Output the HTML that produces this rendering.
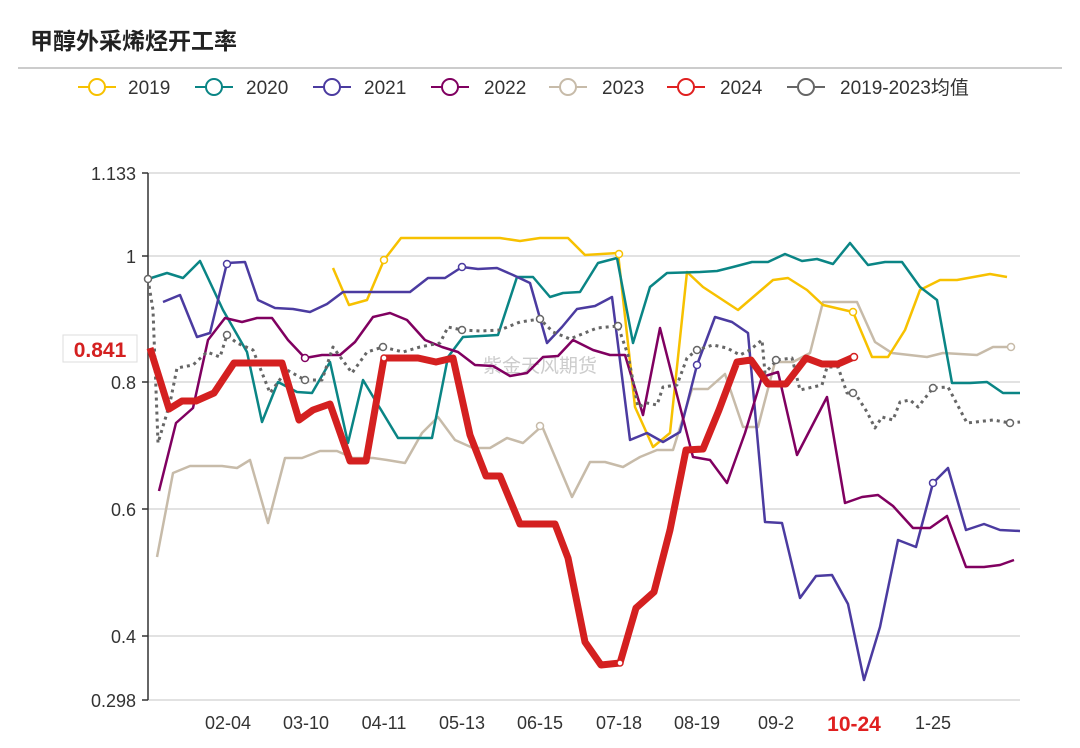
<!DOCTYPE html>
<html><head><meta charset="utf-8"><style>
body{margin:0;background:#fff;width:1080px;height:743px;overflow:hidden;font-family:"Liberation Sans","Noto Sans CJK SC",sans-serif}
</style></head><body>
<svg width="1080" height="743" xmlns="http://www.w3.org/2000/svg" font-family="Liberation Sans, Noto Sans CJK SC, sans-serif">
<text x="30" y="49" font-size="23" font-weight="bold" fill="#222" font-family="Noto Sans CJK SC, sans-serif">甲醇外采烯烃开工率</text>
<line x1="18" y1="68" x2="1062" y2="68" stroke="#bbb" stroke-width="1.5"/>
<g font-size="19" fill="#333" stroke-width="2" fill-opacity="1">
<g><line x1="78" y1="87" x2="116" y2="87" stroke="#f7c100"/><circle cx="97" cy="87" r="8" fill="#fff" stroke="#f7c100"/><text x="128" y="94" stroke="none">2019</text></g>
<g><line x1="195" y1="87" x2="233" y2="87" stroke="#0a8585"/><circle cx="214" cy="87" r="8" fill="#fff" stroke="#0a8585"/><text x="246" y="94" stroke="none">2020</text></g>
<g><line x1="313" y1="87" x2="351" y2="87" stroke="#4b3ba0"/><circle cx="332" cy="87" r="8" fill="#fff" stroke="#4b3ba0"/><text x="364" y="94" stroke="none">2021</text></g>
<g><line x1="431" y1="87" x2="469" y2="87" stroke="#800060"/><circle cx="450" cy="87" r="8" fill="#fff" stroke="#800060"/><text x="484" y="94" stroke="none">2022</text></g>
<g><line x1="549" y1="87" x2="587" y2="87" stroke="#c7bba9"/><circle cx="568" cy="87" r="8" fill="#fff" stroke="#c7bba9"/><text x="602" y="94" stroke="none">2023</text></g>
<g><line x1="667" y1="87" x2="705" y2="87" stroke="#e02020"/><circle cx="686" cy="87" r="8" fill="#fff" stroke="#e02020"/><text x="720" y="94" stroke="none">2024</text></g>
<g><line x1="787" y1="87" x2="825" y2="87" stroke="#666"/><circle cx="806" cy="87" r="8" fill="#fff" stroke="#666"/><text x="840" y="94" stroke="none">2019-2023均值</text></g>
</g>
<g stroke="#d8d8d8" stroke-width="1.5">
<line x1="148" y1="173" x2="1020" y2="173"/><line x1="148" y1="256" x2="1020" y2="256"/><line x1="148" y1="382" x2="1020" y2="382"/><line x1="148" y1="509" x2="1020" y2="509"/><line x1="148" y1="636" x2="1020" y2="636"/><line x1="148" y1="700" x2="1020" y2="700"/>
</g>
<line x1="148" y1="173" x2="148" y2="700" stroke="#333" stroke-width="1.5"/>
<g stroke="#333" stroke-width="1.5"><line x1="142" y1="173" x2="148" y2="173"/><line x1="142" y1="256" x2="148" y2="256"/><line x1="142" y1="382" x2="148" y2="382"/><line x1="142" y1="509" x2="148" y2="509"/><line x1="142" y1="636" x2="148" y2="636"/><line x1="142" y1="700" x2="148" y2="700"/></g>
<g font-size="18" fill="#333" text-anchor="end">
<text x="136" y="180">1.133</text><text x="136" y="263">1</text><text x="136" y="389">0.8</text><text x="136" y="516">0.6</text><text x="136" y="643">0.4</text><text x="136" y="707">0.298</text>
</g>
<g font-size="18" fill="#333" text-anchor="middle">
<text x="228" y="729">02-04</text><text x="306" y="729">03-10</text><text x="384" y="729">04-11</text><text x="462" y="729">05-13</text><text x="540" y="729">06-15</text><text x="619" y="729">07-18</text><text x="697" y="729">08-19</text><text x="776" y="729">09-2</text><text x="854" y="731" fill="#e02020" font-weight="bold" font-size="21">10-24</text><text x="933" y="729">1-25</text>
</g>
<text x="540" y="372" font-size="19" fill="#ccc" text-anchor="middle">紫金天风期货</text>
<g fill="none" stroke-linejoin="round" stroke-width="2.5">
<polyline stroke="#c7bba9" points="157,557 173,473 190,466 222,466 237,468 250,460 268,523 285,458 302,458 320,451 337,451 353,458 373,458 387,460 405,463 422,433 438,417 455,440 473,448 490,448 507,438 523,443 542,426 572,497 590,462 605,462 623,467 640,457 657,450 673,450 692,389 708,389 725,374 743,427 758,427 775,362 793,362 810,353 823,302 857,302 875,342 892,353 927,357 943,353 977,355 993,347 1012,347"/>
<polyline stroke="#f7c100" points="333,268 349,305 367,300 384,260 401,238 500,238 520,241 540,238 568,238 585,255 618,253 635,407 653,447 670,433 687,272 703,287 738,310 773,280 788,278 807,290 823,305 853,312 872,357 888,357 905,330 920,290 940,280 957,280 990,274 1007,277"/>
<polyline stroke="#0a8585" points="148,279 167,273 183,278 200,261 223,310 247,352 262,422 278,382 297,392 312,393 330,362 348,443 363,380 398,438 432,438 448,357 463,337 498,335 517,277 533,277 550,297 563,293 580,292 598,263 617,258 633,343 650,287 667,273 700,272 717,271 733,267 752,262 768,262 785,254 802,261 817,259 833,264 850,243 868,265 885,262 902,262 920,287 937,300 952,383 970,383 987,382 1003,393 1020,393"/>
<polyline stroke="#4b3ba0" points="163,302 180,295 197,337 210,333 227,263 245,262 258,300 275,308 293,309 310,312 327,304 343,292 370,292 393,292 410,292 428,278 445,278 462,267 478,269 497,268 513,275 530,283 547,343 562,327 577,309 595,306 612,297 630,440 647,433 663,442 680,432 697,365 715,317 732,322 748,333 765,522 782,523 800,598 816,576 832,575 848,604 864,680 880,627 898,540 916,547 933,483 948,468 966,530 984,524 1000,530 1020,531"/>
<polyline stroke="#800060" points="159,491 176,423 193,408 208,340 225,318 242,322 257,318 272,318 288,340 305,358 322,355 340,355 355,342 373,317 390,313 407,320 425,340 442,347 458,352 475,365 493,366 510,376 527,373 543,357 558,356 573,340 593,350 610,355 625,355 643,415 660,328 677,395 693,457 710,460 727,483 745,433 762,377 778,372 797,455 827,397 845,503 862,497 878,495 893,506 913,528 930,528 947,516 966,567 984,567 1000,565 1014,560"/>
<polyline stroke="#666" stroke-width="3" stroke-dasharray="3,4" points="148,279 153,310 158,443 170,403 177,368 193,365 207,352 220,357 227,335 237,343 253,350 270,393 287,370 305,380 322,380 333,347 352,373 367,352 383,347 403,352 420,347 440,343 448,327 462,330 480,331 500,330 520,322 540,319 553,332 570,339 597,328 618,326 628,355 638,407 647,403 657,405 663,387 677,385 687,358 697,350 713,345 727,348 740,355 750,350 762,340 765,373 777,360 792,358 800,390 813,387 822,385 827,367 838,367 847,393 855,393 867,412 875,428 882,417 893,420 900,402 910,400 918,407 933,388 948,387 967,423 993,420 1010,423 1020,422"/>
<polyline stroke="#d42020" stroke-width="7" points="150,348 169,409 182,401 196,401 214,393 234,363 254,363 268,363 282,363 299,420 313,410 330,404 350,461 366,461 384,358 404,358 418,358 436,362 453,358 470,435 486,476 500,476 520,524 535,524 555,524 568,558 585,642 601,665 620,663 636,608 654,592 670,530 686,450 703,449 719,410 737,362 751,360 768,384 786,384 806,358 822,364 838,364 854,357"/>
</g>
<g fill="#fff" stroke-width="1.5">
<circle cx="148" cy="279" r="3.5" stroke="#666"/><circle cx="227" cy="335" r="3.5" stroke="#666"/><circle cx="305" cy="380" r="3.5" stroke="#666"/><circle cx="383" cy="347" r="3.5" stroke="#666"/><circle cx="462" cy="330" r="3.5" stroke="#666"/><circle cx="540" cy="319" r="3.5" stroke="#666"/><circle cx="618" cy="326" r="3.5" stroke="#666"/><circle cx="697" cy="350" r="3.5" stroke="#666"/><circle cx="776" cy="360" r="3.5" stroke="#666"/><circle cx="853" cy="393" r="3.5" stroke="#666"/><circle cx="933" cy="388" r="3.5" stroke="#666"/><circle cx="1010" cy="423" r="3.5" stroke="#666"/>
<circle cx="227" cy="264" r="3.5" stroke="#4b3ba0"/><circle cx="462" cy="267" r="3.5" stroke="#4b3ba0"/><circle cx="697" cy="365" r="3.5" stroke="#4b3ba0"/><circle cx="933" cy="483" r="3.5" stroke="#4b3ba0"/>
<circle cx="305" cy="358" r="3.5" stroke="#800060"/>
<circle cx="384" cy="260" r="3.5" stroke="#f7c100"/><circle cx="619" cy="254" r="3.5" stroke="#f7c100"/><circle cx="853" cy="312" r="3.5" stroke="#f7c100"/>
<circle cx="540" cy="426" r="3.5" stroke="#c7bba9"/><circle cx="1011" cy="347" r="3.5" stroke="#c7bba9"/>
<circle cx="384" cy="358" r="3" stroke="#d42020"/><circle cx="620" cy="663" r="3" stroke="#d42020"/><circle cx="854" cy="357" r="3.5" stroke="#d42020"/>
</g>
<rect x="63" y="335" width="74" height="27" fill="#fff" stroke="#ddd"/>
<text x="100" y="357" font-size="21" font-weight="bold" fill="#d42020" text-anchor="middle">0.841</text>
</svg>
</body></html>
